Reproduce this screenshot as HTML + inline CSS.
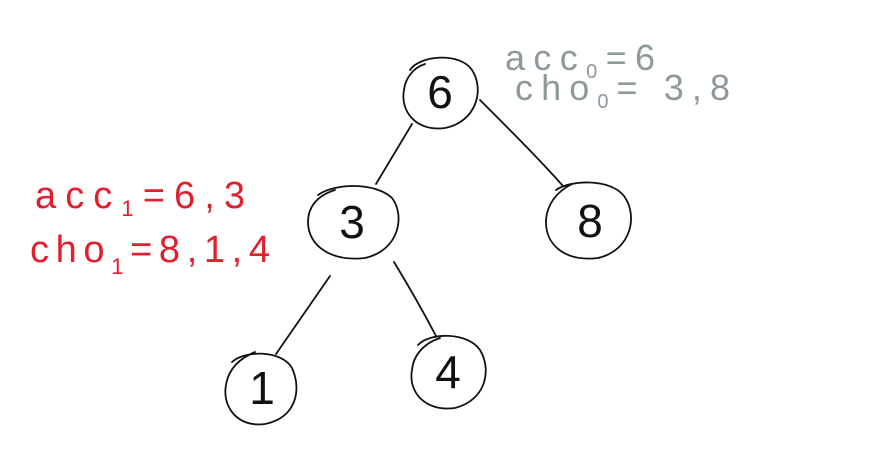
<!DOCTYPE html>
<html><head><meta charset="utf-8"><style>
html,body{margin:0;padding:0;background:#fff;}
svg{display:block;}
text{font-family:"Liberation Sans","DejaVu Sans",sans-serif;}
</style></head><body>
<svg width="873" height="468" viewBox="0 0 873 468">
<g fill="none" stroke="#111" stroke-width="1.8" stroke-linecap="round">
 <path d="M410,70 C420,55 460,52 472,70 C485,90 476,122 445,128 C415,132 400,110 404,90 C405,80 412,68 425,64"/>
 <path d="M318,195 C335,183 375,182 392,198 C405,215 400,250 365,258 C330,262 308,245 308,222 C308,208 316,196 335,190"/>
 <path d="M556,190 C570,180 610,178 624,196 C638,215 632,250 598,258 C565,262 545,245 546,220 C547,205 556,192 572,184"/>
 <path d="M232,362 C245,350 282,350 292,368 C302,390 296,418 265,424 C236,428 222,405 226,385 C228,372 236,360 255,352"/>
 <path d="M418,345 C430,332 468,332 480,350 C492,370 486,400 455,408 C425,412 408,392 412,370 C413,357 422,344 440,338"/>
 <path d="M412,124 L376,184"/>
 <path d="M480,100 C510,130 540,160 563,186"/>
 <path d="M330,276 L276,354"/>
 <path d="M394,262 C408,285 425,315 436,336"/>
</g>
<g fill="#111" font-size="46" text-anchor="middle">
 <text x="440" y="108">6</text>
 <text x="352" y="238">3</text>
 <text x="590" y="237">8</text>
 <text x="262" y="404">1</text>
 <text x="448" y="388">4</text>
</g>
<g fill="#8e9a9a" font-size="36">
 <text x="505" y="70" textLength="150" lengthAdjust="spacing">acc<tspan font-size="20" dy="8">0</tspan><tspan dy="-8">=6</tspan></text>
 <text x="515" y="100" textLength="215" lengthAdjust="spacing">cho<tspan font-size="20" dy="8">0</tspan><tspan dy="-8">= 3,8</tspan></text>
</g>
<g fill="#e0202e" font-size="38">
 <text x="35" y="208" textLength="210" lengthAdjust="spacing">acc<tspan font-size="22" dy="8">1</tspan><tspan dy="-8">=6,3</tspan></text>
 <text x="30" y="262" textLength="240" lengthAdjust="spacing">cho<tspan font-size="22" dy="12">1</tspan><tspan dy="-12">=8,1,4</tspan></text>
</g>
</svg>
</body></html>
